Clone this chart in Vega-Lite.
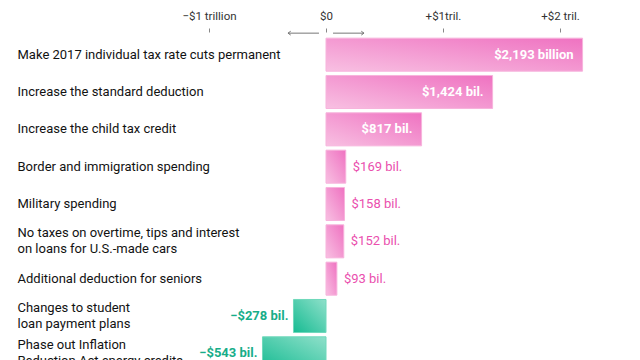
{
  "$schema": "https://vega.github.io/schema/vega-lite/v6.json",
  "autosize": {"type": "none"},
  "padding": {"left": 180, "top": 36, "right": 40, "bottom": 0},
  "width": 420,
  "height": 336,
  "background": "white",
  "config": {"view": {"stroke": null}, "font": "Roboto"},
  "datasets": {
    "policies": [
      {"policy": "Make 2017 individual tax rate cuts permanent", "value": 2193, "label": "$2,193 billion"},
      {"policy": "Increase the standard deduction", "value": 1424, "label": "$1,424 bil."},
      {"policy": "Increase the child tax credit", "value": 817, "label": "$817 bil."},
      {"policy": "Border and immigration spending", "value": 169, "label": "$169 bil."},
      {"policy": "Military spending", "value": 158, "label": "$158 bil."},
      {"policy": "No taxes on overtime, tips and interest|on loans for U.S.-made cars", "value": 152, "label": "$152 bil."},
      {"policy": "Additional deduction for seniors", "value": 93, "label": "$93 bil."},
      {"policy": "Changes to student|loan payment plans", "value": -278, "label": "\u2212$278 bil."},
      {"policy": "Phase out Inflation|Reduction Act energy credits", "value": -543, "label": "\u2212$543 bil."}
    ],
    "arrows": [
      {"start": -60, "end": -325, "dir": "left"},
      {"start": 60, "end": 325, "dir": "right"}
    ]
  },
  "layer": [
    {
      "data": {"name": "policies"},
      "transform": [{"filter": "datum.value > 0"}],
      "mark": {
        "type": "bar",
        "stroke": "#f7b3dc",
        "strokeWidth": 1,
        "color": {
          "gradient": "linear", "x1": 0, "y1": 1, "x2": 1, "y2": 0,
          "stops": [{"offset": 0, "color": "#f8c0e2"}, {"offset": 1, "color": "#ef72c1"}]
        }
      },
      "encoding": {
        "y": {
          "field": "policy", "type": "nominal", "sort": null,
          "scale": {"domain": [
            "Make 2017 individual tax rate cuts permanent",
            "Increase the standard deduction",
            "Increase the child tax credit",
            "Border and immigration spending",
            "Military spending",
            "No taxes on overtime, tips and interest|on loans for U.S.-made cars",
            "Additional deduction for seniors",
            "Changes to student|loan payment plans",
            "Phase out Inflation|Reduction Act energy credits"
          ], "paddingInner": 0.115, "paddingOuter": 0.0575},
          "axis": {
            "title": null, "orient": "left", "domain": false, "ticks": false,
            "labelAlign": "left", "labelBaseline": "middle", "labelPadding": 163,
            "labelFontSize": 13, "labelColor": "#121212", "labelLimit": 320,
            "labelLineHeight": 15.5,
            "labelOffset": {"condition": {"test": "indexof(datum.value, '|') >= 0", "value": -8}, "value": 0},
            "labelExpr": "split(datum.label, '|')"
          }
        },
        "x": {
          "field": "value", "type": "quantitative",
          "scale": {"domain": [-1248, 2342], "nice": false, "zero": false},
          "axis": {
            "title": null, "orient": "top", "domain": false, "grid": false,
            "values": [-1000, 0, 1000, 2000],
            "labelExpr": "datum.value == -1000 ? '\u2212$1 trillion' : datum.value == 0 ? '$0' : datum.value == 1000 ? '+$1tril.' : '+$2 tril.'",
            "tickSize": 4, "offset": 4, "tickColor": "#888", "tickWidth": 1,
            "labelPadding": 7, "labelFontSize": 11.5, "labelColor": "#333"
          }
        },
        "x2": {"datum": 0}
      }
    },
    {
      "data": {"name": "policies"},
      "transform": [{"filter": "datum.value < 0"}],
      "mark": {
        "type": "bar",
        "stroke": "#6fd8bb",
        "strokeWidth": 1,
        "color": {
          "gradient": "linear", "x1": 0, "y1": 1, "x2": 1, "y2": 0,
          "stops": [{"offset": 0, "color": "#16bb92"}, {"offset": 1, "color": "#8fe0ca"}]
        }
      },
      "encoding": {
        "y": {"field": "policy", "type": "nominal", "sort": null},
        "x": {"field": "value", "type": "quantitative"},
        "x2": {"datum": 0}
      }
    },
    {
      "data": {"name": "policies"},
      "transform": [{"filter": "datum.value >= 500"}],
      "mark": {"type": "text", "align": "right", "baseline": "middle", "dx": -9, "color": "white", "fontWeight": "bold", "fontSize": 13},
      "encoding": {
        "y": {"field": "policy", "type": "nominal", "sort": null},
        "x": {"field": "value", "type": "quantitative"},
        "text": {"field": "label"}
      }
    },
    {
      "data": {"name": "policies"},
      "transform": [{"filter": "datum.value > 0 && datum.value < 500"}],
      "mark": {"type": "text", "align": "left", "baseline": "middle", "dx": 7, "color": "#ea4fae", "fontSize": 13},
      "encoding": {
        "y": {"field": "policy", "type": "nominal", "sort": null},
        "x": {"field": "value", "type": "quantitative"},
        "text": {"field": "label"}
      }
    },
    {
      "data": {"name": "policies"},
      "transform": [{"filter": "datum.value < 0"}],
      "mark": {"type": "text", "align": "right", "baseline": "middle", "dx": -5, "color": "#17ad89", "fontWeight": "bold", "fontSize": 13},
      "encoding": {
        "y": {"field": "policy", "type": "nominal", "sort": null},
        "x": {"field": "value", "type": "quantitative"},
        "text": {"field": "label"}
      }
    },
    {
      "data": {"name": "arrows"},
      "mark": {"type": "rule", "color": "#777", "strokeWidth": 1, "yOffset": -5},
      "encoding": {
        "x": {"field": "start", "type": "quantitative"},
        "x2": {"field": "end"},
        "y": {"datum": "Make 2017 individual tax rate cuts permanent", "type": "nominal", "bandPosition": 0}
      }
    },
    {
      "data": {"name": "arrows"},
      "mark": {"type": "point", "filled": false, "color": "#777", "strokeWidth": 1, "size": 30, "yOffset": -5, "opacity": 1},
      "encoding": {
        "x": {"field": "end", "type": "quantitative"},
        "y": {"datum": "Make 2017 individual tax rate cuts permanent", "type": "nominal", "bandPosition": 0},
        "shape": {
          "field": "dir", "type": "nominal", "legend": null,
          "scale": {"domain": ["left", "right"], "range": ["M 1 -0.7 L 0 0 L 1 0.7", "M -1 -0.7 L 0 0 L -1 0.7"]}
        }
      }
    }
  ]
}
